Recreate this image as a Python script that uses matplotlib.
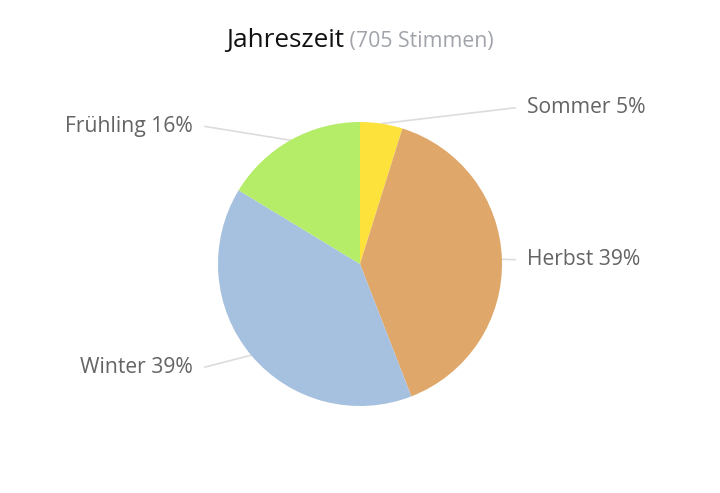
import numpy as np
import matplotlib.pyplot as plt

seasons = ['Sommer', 'Herbst', 'Winter', 'Frühling']
votes = [34, 277, 279, 115]
pct_labels = ['5%', '39%', '39%', '16%']
colors = ['#fde23c', '#dfa86a', '#a6c0df', '#b5ec68']
total = 705

plt.rcParams['font.family'] = ['Open Sans', 'DejaVu Sans']

fig = plt.figure(figsize=(7.2, 4.93), dpi=100)
ax = fig.add_axes([0, 0, 1, 1])
ax.set_xlim(0, 720)
ax.set_ylim(0, 493)
ax.set_aspect('equal')
ax.axis('off')

cx, cy, r = 360, 229, 142
ax.pie(votes, colors=colors, startangle=90, counterclock=False,
       center=(cx, cy), radius=r, wedgeprops=dict(linewidth=0))
ax.set_xlim(0, 720)
ax.set_ylim(0, 493)

# leader lines + labels
fracs = np.array(votes) / sum(votes)
start = np.concatenate([[0], np.cumsum(fracs)[:-1]])
mids = (start + fracs / 2) * 2 * np.pi
for name, p, th in zip(seasons, pct_labels, mids):
    px, py = cx + r * np.sin(th), cy + r * np.cos(th)
    ly = cy + 159 * np.cos(th) - 1
    side = 1 if np.sin(th) > 0 else -1
    ex = cx + side * (r + 13)
    ax.plot([px, ex], [py, ly], color='#dcdcdc', lw=1.2, zorder=0)
    ax.text(cx + side * (r + 25), ly, f'{name} {p}', fontsize=15.2,
            color='#646464', va='center',
            ha='left' if side > 0 else 'right')

# title in two colours
t1 = fig.text(0.5, 452 / 493, 'Jahreszeit', fontsize=18.8, color='#111111',
              ha='left', va='center', fontweight='medium')
t2 = fig.text(0.5, 452 / 493, f' ({total} Stimmen)', fontsize=15.3,
              color='#a0a4aa', ha='left', va='center')
fig.canvas.draw()
rend = fig.canvas.get_renderer()
w1 = t1.get_window_extent(rend).width
w2 = t2.get_window_extent(rend).width
x0 = (720 - w1 - w2) / 2
t1.set_x(x0 / 720)
t2.set_x((x0 + w1) / 720)

fig.savefig('out.png', dpi=100, facecolor='white')
